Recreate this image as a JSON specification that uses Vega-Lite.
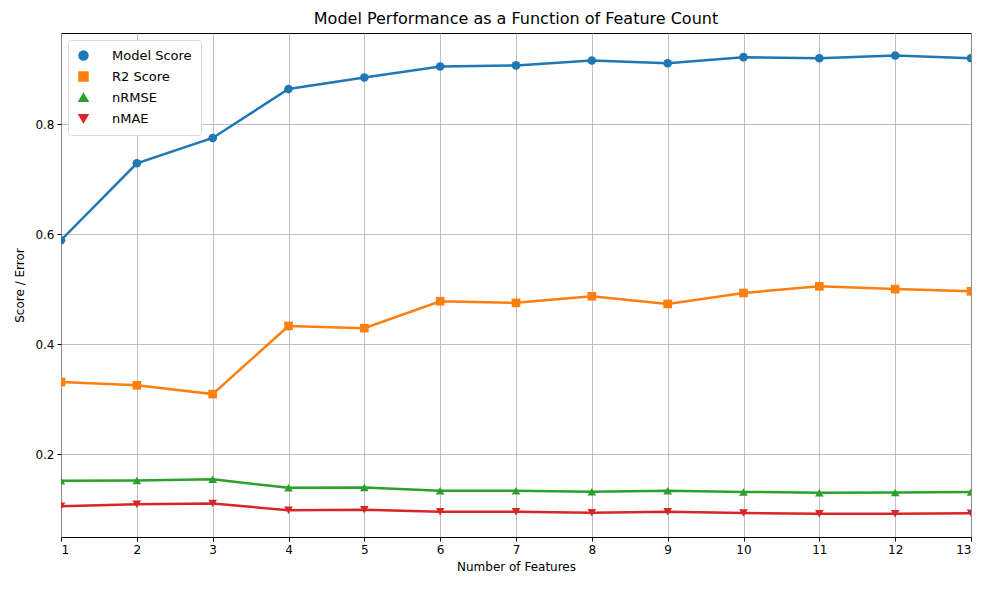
{
  "$schema": "https://vega.github.io/schema/vega-lite/v6.json",
  "width": 910,
  "height": 504,
  "autosize": {"type": "none"},
  "padding": {"left": 61, "top": 33, "right": 19, "bottom": 53},
  "background": "white",
  "title": {
    "text": "Model Performance as a Function of Feature Count",
    "font": "DejaVu Sans",
    "fontSize": 16,
    "fontWeight": "normal",
    "color": "black",
    "offset": 6
  },
  "data": {
    "values": [
      {"features": 1, "metric": "Model Score", "value": 0.589},
      {"features": 2, "metric": "Model Score", "value": 0.729},
      {"features": 3, "metric": "Model Score", "value": 0.775},
      {"features": 4, "metric": "Model Score", "value": 0.864},
      {"features": 5, "metric": "Model Score", "value": 0.885},
      {"features": 6, "metric": "Model Score", "value": 0.905},
      {"features": 7, "metric": "Model Score", "value": 0.907},
      {"features": 8, "metric": "Model Score", "value": 0.916},
      {"features": 9, "metric": "Model Score", "value": 0.911},
      {"features": 10, "metric": "Model Score", "value": 0.922},
      {"features": 11, "metric": "Model Score", "value": 0.920},
      {"features": 12, "metric": "Model Score", "value": 0.925},
      {"features": 13, "metric": "Model Score", "value": 0.920},
      {"features": 1, "metric": "R2 Score", "value": 0.331},
      {"features": 2, "metric": "R2 Score", "value": 0.325},
      {"features": 3, "metric": "R2 Score", "value": 0.309},
      {"features": 4, "metric": "R2 Score", "value": 0.433},
      {"features": 5, "metric": "R2 Score", "value": 0.429},
      {"features": 6, "metric": "R2 Score", "value": 0.478},
      {"features": 7, "metric": "R2 Score", "value": 0.475},
      {"features": 8, "metric": "R2 Score", "value": 0.487},
      {"features": 9, "metric": "R2 Score", "value": 0.473},
      {"features": 10, "metric": "R2 Score", "value": 0.493},
      {"features": 11, "metric": "R2 Score", "value": 0.505},
      {"features": 12, "metric": "R2 Score", "value": 0.500},
      {"features": 13, "metric": "R2 Score", "value": 0.496},
      {"features": 1, "metric": "nRMSE", "value": 0.1515},
      {"features": 2, "metric": "nRMSE", "value": 0.152},
      {"features": 3, "metric": "nRMSE", "value": 0.154},
      {"features": 4, "metric": "nRMSE", "value": 0.1385},
      {"features": 5, "metric": "nRMSE", "value": 0.139},
      {"features": 6, "metric": "nRMSE", "value": 0.1333},
      {"features": 7, "metric": "nRMSE", "value": 0.1333},
      {"features": 8, "metric": "nRMSE", "value": 0.1315},
      {"features": 9, "metric": "nRMSE", "value": 0.1333},
      {"features": 10, "metric": "nRMSE", "value": 0.131},
      {"features": 11, "metric": "nRMSE", "value": 0.1297},
      {"features": 12, "metric": "nRMSE", "value": 0.130},
      {"features": 13, "metric": "nRMSE", "value": 0.131},
      {"features": 1, "metric": "nMAE", "value": 0.1049},
      {"features": 2, "metric": "nMAE", "value": 0.1085},
      {"features": 3, "metric": "nMAE", "value": 0.110},
      {"features": 4, "metric": "nMAE", "value": 0.0976},
      {"features": 5, "metric": "nMAE", "value": 0.0987},
      {"features": 6, "metric": "nMAE", "value": 0.0951},
      {"features": 7, "metric": "nMAE", "value": 0.0951},
      {"features": 8, "metric": "nMAE", "value": 0.0933},
      {"features": 9, "metric": "nMAE", "value": 0.0951},
      {"features": 10, "metric": "nMAE", "value": 0.0927},
      {"features": 11, "metric": "nMAE", "value": 0.0915},
      {"features": 12, "metric": "nMAE", "value": 0.0915},
      {"features": 13, "metric": "nMAE", "value": 0.092}
    ]
  },
  "encoding": {
    "x": {
      "field": "features",
      "type": "quantitative",
      "title": "Number of Features",
      "scale": {"domain": [1, 13], "nice": false, "zero": false},
      "axis": {"values": [1, 2, 3, 4, 5, 6, 7, 8, 9, 10, 11, 12, 13], "format": "d"}
    },
    "y": {
      "field": "value",
      "type": "quantitative",
      "title": "Score / Error",
      "scale": {"domain": [0.049, 0.966], "nice": false, "zero": false},
      "axis": {"values": [0.2, 0.4, 0.6, 0.8], "format": ".1f"}
    },
    "color": {
      "field": "metric",
      "type": "nominal",
      "scale": {
        "domain": ["Model Score", "R2 Score", "nRMSE", "nMAE"],
        "range": ["#1f77b4", "#ff7f0e", "#2ca02c", "#d62728"]
      },
      "legend": {"title": null}
    }
  },
  "layer": [
    {
      "mark": {"type": "line", "strokeWidth": 2.5, "clip": true}
    },
    {
      "mark": {"type": "point", "filled": true, "opacity": 1, "size": 75, "clip": true},
      "encoding": {
        "shape": {
          "field": "metric",
          "type": "nominal",
          "scale": {
            "domain": ["Model Score", "R2 Score", "nRMSE", "nMAE"],
            "range": ["circle", "square", "triangle-up", "triangle-down"]
          },
          "legend": {"title": null}
        }
      }
    }
  ],
  "config": {
    "font": "DejaVu Sans",
    "view": {"stroke": "black", "strokeWidth": 1},
    "axis": {
      "grid": true,
      "gridColor": "#b0b0b0",
      "gridWidth": 0.8,
      "domain": false,
      "tickColor": "black",
      "tickSize": 4,
      "labelFont": "DejaVu Sans",
      "labelFontSize": 12,
      "labelColor": "black",
      "titleFont": "DejaVu Sans",
      "titleFontSize": 12,
      "titleFontWeight": "normal",
      "titleColor": "black"
    },
    "axisX": {"titlePadding": 6, "labelPadding": 3},
    "axisY": {"titlePadding": 8, "labelPadding": 3},
    "legend": {
      "orient": "top-left",
      "offset": 7,
      "padding": 9,
      "strokeColor": "#d8d8d8",
      "fillColor": "white",
      "cornerRadius": 3,
      "labelFont": "DejaVu Sans",
      "labelFontSize": 13,
      "labelColor": "black",
      "symbolSize": 80,
      "rowPadding": 6,
      "labelOffset": 22
    }
  }
}
